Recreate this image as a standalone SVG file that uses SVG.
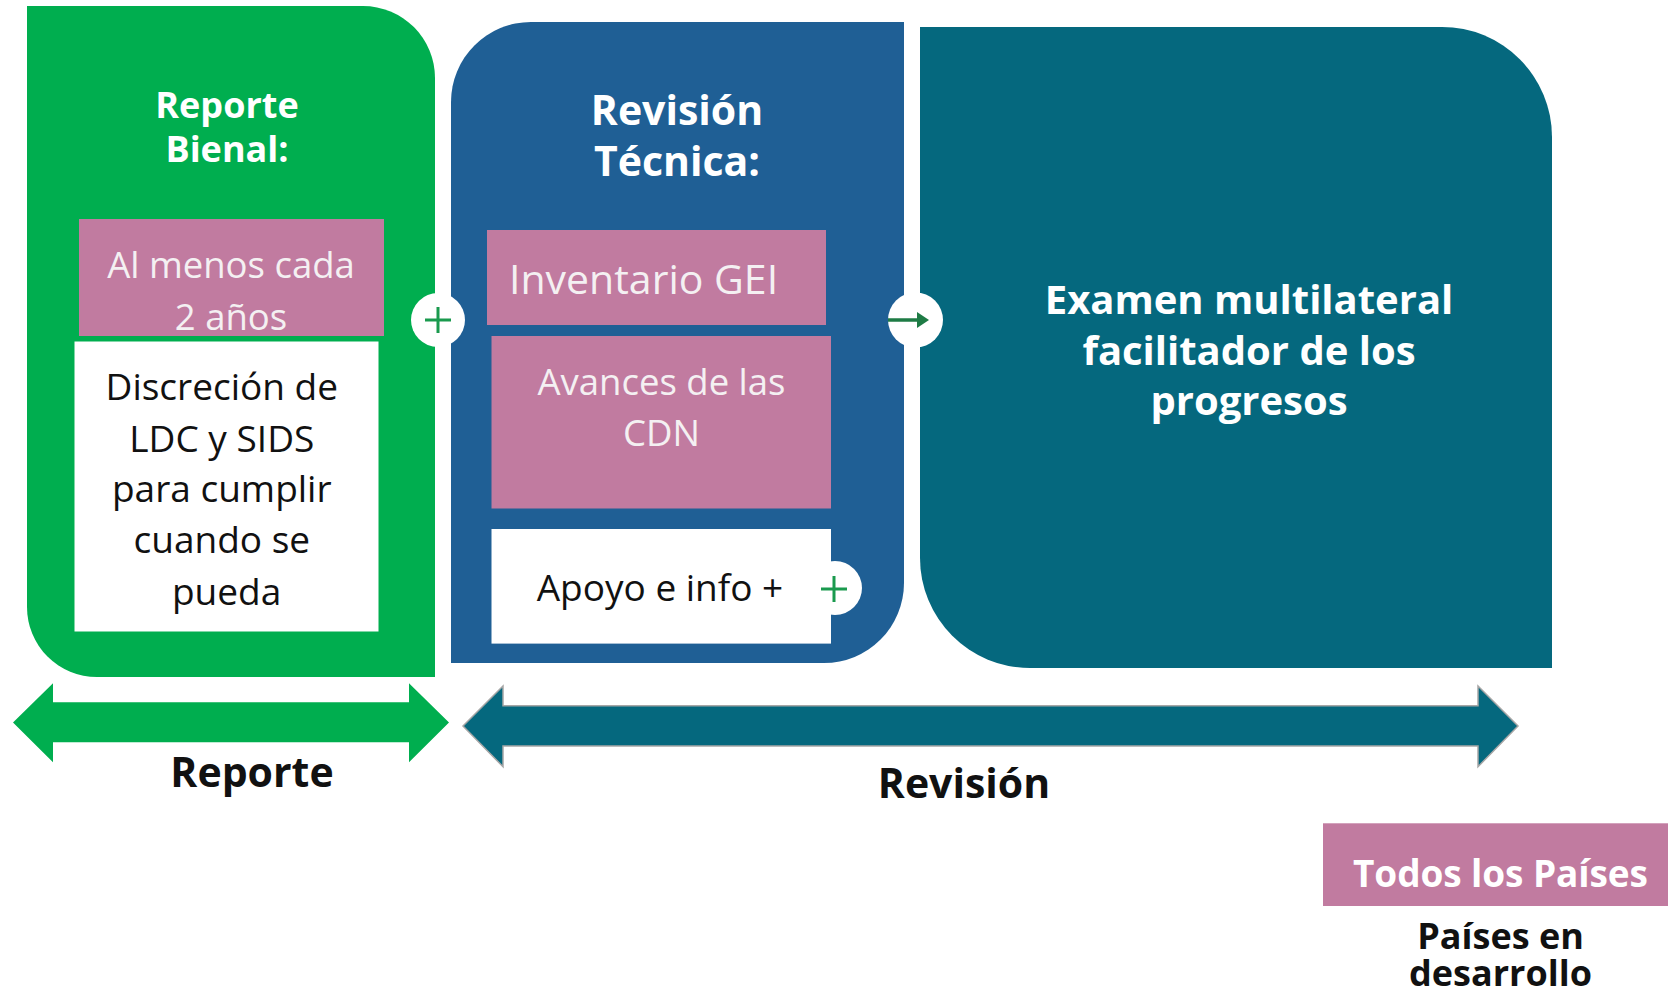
<svg xmlns="http://www.w3.org/2000/svg" width="1668" height="995" viewBox="0 0 1668 995">
<style>
.reg{font-family:"Open Sans","Noto Sans","Liberation Sans",sans-serif;font-weight:400;}
.bold{font-family:"Open Sans","Noto Sans","Liberation Sans",sans-serif;font-weight:700;}
.w{fill:#ffffff;}
.pw{fill:#f4f0f2;}
.k{fill:#111111;}
.pink{fill:#c17ba0;}
.white{fill:#ffffff;}
.plus{stroke:#1a9a4e;stroke-width:3;fill:none;}
</style>
<rect width="1668" height="995" fill="#ffffff"/>

<g id="reporte-bienal">
<path d="M27,6 H363 A72,72 0 0 1 435,78 V677 H97 A70,70 0 0 1 27,607 Z" fill="#00ae4f"/>
<text class="bold w" font-size="36" text-anchor="middle" x="227" y="118">Reporte</text>
<text class="bold w" font-size="36" text-anchor="middle" x="227" y="162">Bienal:</text>
<g id="al-menos">
<rect class="pink" x="79" y="219" width="305" height="117"/>
<text class="reg pw" font-size="36.5" text-anchor="middle" x="231" y="277.5">Al menos cada</text>
<text class="reg pw" font-size="36.5" text-anchor="middle" x="231" y="329.5">2 años</text>
</g>
<g id="discrecion">
<rect class="white" x="74.5" y="341.5" width="304" height="290"/>
<text class="reg k" font-size="37" text-anchor="middle" x="226.6">
<tspan x="226.6" y="400">Discreción de</tspan>
<tspan x="226.6" y="451.5">LDC y SIDS</tspan>
<tspan x="226.6" y="502">para cumplir</tspan>
<tspan x="226.6" y="553">cuando se</tspan>
<tspan x="226.6" y="605">pueda</tspan>
</text>
</g>
</g>

<g id="revision-tecnica">
<path d="M531,22 H904 V583 A80,80 0 0 1 824,663 H451 V102 A80,80 0 0 1 531,22 Z" fill="#1f5f95"/>
<text class="bold w" font-size="41" text-anchor="middle" x="677" y="125">Revisión</text>
<text class="bold w" font-size="41" text-anchor="middle" x="677" y="176">Técnica:</text>
<g id="inventario">
<rect class="pink" x="487" y="230" width="339" height="95"/>
<text class="reg pw" font-size="41" x="509" y="294.3">Inventario GEI</text>
</g>
<g id="avances">
<rect class="pink" x="491.5" y="336" width="339.5" height="172.5"/>
<text class="reg pw" font-size="36.5" text-anchor="middle" x="661.5" y="394.8">Avances de las</text>
<text class="reg pw" font-size="36.5" text-anchor="middle" x="661.5" y="445.7">CDN</text>
</g>
<g id="apoyo">
<rect class="white" x="491.5" y="529" width="339.5" height="114.6"/>
<text class="reg k" font-size="37" x="536.7" y="601">Apoyo e info +</text>
</g>
</g>

<g id="examen">
<path d="M920,27 H1442 A110,110 0 0 1 1552,137 V668 H1030 A110,110 0 0 1 920,558 Z" fill="#05687e"/>
<text class="bold w" font-size="40" text-anchor="middle" x="1249" y="314">Examen multilateral</text>
<text class="bold w" font-size="40" text-anchor="middle" x="1249" y="365">facilitador de los</text>
<text class="bold w" font-size="40" text-anchor="middle" x="1249" y="415">progresos</text>
</g>

<g id="arrow-reporte">
<polygon points="13,722.5 53,683.3 53,702.3 409,702.3 409,683.3 449,722.5 409,762.3 409,742.3 53,742.3 53,762.3" fill="#00ae4f"/>
<text class="bold k" font-size="41" text-anchor="middle" x="252" y="786.7">Reporte</text>
</g>

<g id="arrow-revision">
<polygon points="463,726 503,686 503,705.7 1478,705.7 1478,686 1518,726 1478,766.7 1478,746 503,746 503,766.7" fill="#05687e" stroke="#a6a6a6" stroke-width="1.5"/>
<text class="bold k" font-size="41" text-anchor="middle" x="964" y="798">Revisión</text>
</g>

<g id="legend">
<g id="todos">
<rect class="pink" x="1323" y="823.3" width="345" height="82.7"/>
<text class="bold w" font-size="37" x="1353" y="887.3" textLength="295" lengthAdjust="spacing">Todos los Países</text>
</g>
<g id="en-desarrollo">
<text class="bold k" font-size="36" text-anchor="middle" x="1500.5" y="948.7">Países en</text>
<text class="bold k" font-size="36" text-anchor="middle" x="1500.5" y="986">desarrollo</text>
</g>
</g>

<g id="connectors">
<g id="plus-1">
<circle cx="438" cy="320" r="27" fill="#ffffff"/>
<path class="plus" d="M425,320 H451 M438,307 V333" stroke="#1b8a4b"/>
</g>
<g id="arrow-1">
<circle cx="915.5" cy="320" r="27.5" fill="#ffffff"/>
<path d="M888,320 H919" stroke="#1e7b45" stroke-width="3.5" fill="none"/>
<polygon points="917,312 929,320 917,328" fill="#1e7b45"/>
</g>
<g id="plus-2">
<circle cx="835" cy="588" r="27" fill="#ffffff"/>
<path class="plus" d="M821,589 H847 M834,576 V602"/>
</g>
</g>
</svg>
